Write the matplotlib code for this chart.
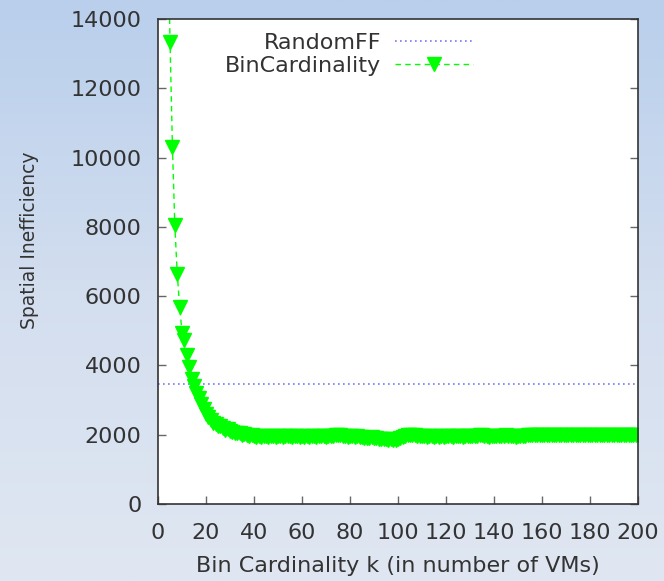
import numpy as np
import matplotlib
matplotlib.use("Agg")
import matplotlib.pyplot as plt
from matplotlib.colors import LinearSegmentedColormap

# RandomFF baseline
random_ff = 3470

# BinCardinality: k = 4 .. 200
k_vals = list(range(4, 201))
bin_card = [
    17000, 13350, 10300, 8050, 6650, 5700, 4950, 4750, 4300, 3950, 3600,
    # 15-40
    3400, 3200, 3050, 2900, 2750, 2600, 2500, 2420, 2350, 2300,
    2250, 2250, 2200, 2150, 2180, 2120, 2080, 2060, 2040, 2050,
    2000, 2010, 1980, 1960, 1990, 1950,
    # 41-200
    1940, 1960, 1930, 1950, 1970, 1940, 1950, 1960, 1930, 1950,
    1960, 1940, 1950, 1970, 1950, 1930, 1950, 1960, 1940, 1950,
    1930, 1950, 1940, 1960, 1950, 1940, 1960, 1970, 1950, 1940,
    1960, 1950, 1970, 1990, 2000, 1980, 1960, 1950, 1940, 1960,
    1950, 1930, 1950, 1940, 1930, 1920, 1900, 1920, 1930, 1910,
    1900, 1890, 1880, 1870, 1880, 1860, 1870, 1850, 1860, 1880,
    1900, 1930, 1960, 1980, 1990, 2000, 1980, 1960, 1950, 1960,
    1950, 1940, 1950, 1960, 1940, 1950, 1930, 1950, 1940, 1950,
    1960, 1950, 1940, 1950, 1960, 1950, 1940, 1950, 1960, 1970,
    1960, 1950, 1970, 1990, 1980, 1960, 1950, 1940, 1960, 1950,
    1960, 1970, 1950, 1960, 1980, 1970, 1960, 1950, 1940, 1950,
    1960, 1950, 1970, 1980, 1990, 1980, 1990, 2000, 1990, 1980,
    1990, 1980, 2000, 1990, 1980, 1990, 2000, 1990, 1980, 1990,
    2000, 1990, 1980, 1990, 2000, 1990, 1990, 1980, 1990, 2000,
    1990, 1980, 1990, 2000, 1990, 1980, 1990, 2000, 1990, 1980,
    1990, 2000, 1990, 1980, 1990, 2000, 1990, 1980, 1990, 2000,
]

x_ticks = list(range(0, 201, 20))
y_ticks = list(range(0, 14001, 2000))

plt.rcParams['font.family'] = ['DejaVu Sans']
txt = '#333333'

fig = plt.figure(figsize=(6.64, 5.81), dpi=100)

# slide-like gradient background
bg = fig.add_axes([0, 0, 1, 1], zorder=-10)
cmap = LinearSegmentedColormap.from_list('bg', ['#b9cfec', '#d3deef', '#e0e7f2'])
bg.imshow(np.linspace(0, 1, 256).reshape(-1, 1), aspect='auto', cmap=cmap,
          extent=[0, 1, 0, 1])
bg.axis('off')

ax = fig.add_axes([0.238, 0.1325, 0.723, 0.8345])
ax.set_facecolor('white')

ax.axhline(random_ff, color='#7777ff', linestyle=(0, (1, 2)), linewidth=1.2,
           label='RandomFF')
ax.plot(k_vals, bin_card, color='#00ff00', linestyle=(0, (4, 3)), linewidth=1.0,
        marker='v', markersize=10, label='BinCardinality')

ax.set_xlim(0, 200)
ax.set_ylim(0, 14000)
ax.set_xticks(x_ticks)
ax.set_yticks(y_ticks)
ax.tick_params(direction='in', length=6, width=1, colors='#666666',
               labelcolor=txt, labelsize=16, right=True, top=False)
ax.tick_params(axis='x', pad=14)
ax.tick_params(axis='y', pad=12)
for s in ax.spines.values():
    s.set_color('#333333')
    s.set_linewidth(1.2)

ax.set_xlabel('Bin Cardinality k (in number of VMs)', fontsize=16, color=txt)
ax.set_ylabel('Spatial Inefficiency', fontsize=13.5, color=txt)
ax.xaxis.set_label_coords(0.5, -0.108)
ax.yaxis.set_label_coords(-0.247, 0.544)

leg = ax.legend(loc='upper right', bbox_to_anchor=(0.683, 1.0), frameon=False,
                markerfirst=False, fontsize=16, handlelength=3.5,
                labelspacing=0.15, handletextpad=0.6, borderaxespad=0.2)
for t in leg.get_texts():
    t.set_color(txt)

fig.savefig('out.png', dpi=100)
